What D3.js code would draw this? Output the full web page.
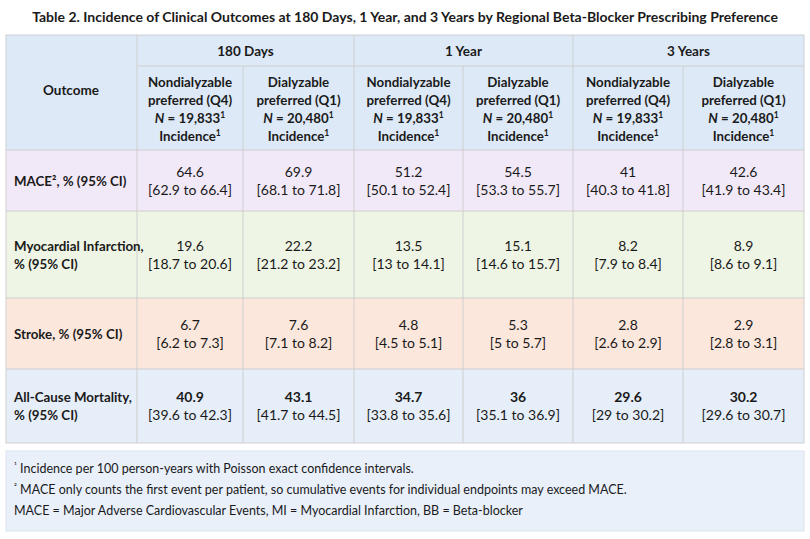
<!DOCTYPE html>
<html><head><meta charset="utf-8">
<script src="https://cdn.jsdelivr.net/npm/d3@7"></script>
<style>body{margin:0;background:#fff}text{font-family:Lato,"Open Sans",sans-serif;fill:#1a1a1a}</style>
</head><body><svg id="c" width="810" height="539"></svg>
<script>
const title = "Table 2. Incidence of Clinical Outcomes at 180 Days, 1 Year, and 3 Years by Regional Beta-Blocker Prescribing Preference";
const periods = ["180 Days", "1 Year", "3 Years"];
const groups = [["Nondialyzable","preferred (Q4)","N = 19,833","Incidence"],["Dialyzable","preferred (Q1)","N = 20,480","Incidence"]];
const outcomes = [["MACE², % (95% CI)"],["Myocardial Infarction,","% (95% CI)"],["Stroke, % (95% CI)"],["All-Cause Mortality,","% (95% CI)"]];
const values = [
 [64.6,69.9,51.2,54.5,41,42.6],
 [19.6,22.2,13.5,15.1,8.2,8.9],
 [6.7,7.6,4.8,5.3,2.8,2.9],
 [40.9,43.1,34.7,36,29.6,30.2]];
const ci = [
 ["62.9 to 66.4","68.1 to 71.8","50.1 to 52.4","53.3 to 55.7","40.3 to 41.8","41.9 to 43.4"],
 ["18.7 to 20.6","21.2 to 23.2","13 to 14.1","14.6 to 15.7","7.9 to 8.4","8.6 to 9.1"],
 ["6.2 to 7.3","7.1 to 8.2","4.5 to 5.1","5 to 5.7","2.6 to 2.9","2.8 to 3.1"],
 ["39.6 to 42.3","41.7 to 44.5","33.8 to 35.6","35.1 to 36.9","29 to 30.2","29.6 to 30.7"]];
const footnotes = ["¹ Incidence per 100 person-years with Poisson exact confidence intervals.","² MACE only counts the first event per patient, so cumulative events for individual endpoints may exceed MACE.","MACE = Major Adverse Cardiovascular Events, MI = Myocardial Infarction, BB = Beta-blocker"];
const rowColors = ["#f2e9f8","#eff5e5","#fce7dd","#e6eef9"];

const svg = d3.select("#c");
const colEdges = [6,137,243,354,463,573,683,804];
const rowEdges = [150,211,298,369,443];
const bc = "#cfcfcf";
svg.append("text").attr("x",405).attr("y",22).attr("text-anchor","middle").attr("font-size",14).attr("font-weight",700).text(title);
svg.append("rect").attr("x",6).attr("y",35).attr("width",798).attr("height",115).attr("fill","#dde9f7");
outcomes.forEach((o,i)=>svg.append("rect").attr("x",6).attr("y",rowEdges[i]).attr("width",798).attr("height",rowEdges[i+1]-rowEdges[i]).attr("fill",rowColors[i]));
const L=(x1,y1,x2,y2)=>svg.append("line").attr("x1",x1).attr("y1",y1).attr("x2",x2).attr("y2",y2).attr("stroke",bc).attr("stroke-width",1);
svg.append("rect").attr("x",6).attr("y",35).attr("width",798).attr("height",408).attr("fill","none").attr("stroke",bc);
L(137,66,804,66);
rowEdges.slice(0,4).forEach(y=>L(6,y,804,y));
colEdges.slice(1,7).forEach((x,i)=>L(x,i%2===1?66:35,x,443));
svg.append("text").attr("x",71).attr("y",95).attr("text-anchor","middle").attr("font-size",13.5).attr("font-weight",700).text("Outcome");
periods.forEach((p,i)=>{
  const cx=(colEdges[1+2*i]+colEdges[3+2*i])/2;
  svg.append("text").attr("x",cx).attr("y",56).attr("text-anchor","middle").attr("font-size",13.5).attr("font-weight",700).text(p);
  groups.forEach((g,j)=>{
    const x=(colEdges[1+2*i+j]+colEdges[2+2*i+j])/2;
    g.forEach((line,k)=>{
      const t=svg.append("text").attr("x",x).attr("y",87+k*18).attr("text-anchor","middle").attr("font-size",13.3).attr("font-weight",700);
      if(k===2){t.append("tspan").attr("font-style","italic").text("N");t.append("tspan").text(line.slice(1));t.append("tspan").attr("font-size",8.5).attr("dy",-5).text("1");}
      else if(k===3){t.append("tspan").text(line);t.append("tspan").attr("font-size",8.5).attr("dy",-5).text("1");}
      else t.text(line);
    });
  });
});
outcomes.forEach((o,i)=>{
  const cy=(rowEdges[i]+rowEdges[i+1])/2;
  o.forEach((line,k)=>svg.append("text").attr("x",14).attr("y",cy+5-(o.length-1)*9+k*18).attr("font-size",13.3).attr("font-weight",700).text(line));
  values[i].forEach((v,j)=>{
    const x=(colEdges[j+1]+colEdges[j+2])/2;
    svg.append("text").attr("x",x).attr("y",cy-4).attr("text-anchor","middle").attr("font-size",14).attr("font-weight",i===3?700:400).text(v);
    svg.append("text").attr("x",x).attr("y",cy+14).attr("text-anchor","middle").attr("font-size",14).text("["+ci[i][j]+"]");
  });
});
svg.append("rect").attr("x",6).attr("y",451).attr("width",798).attr("height",80).attr("fill","#e9f0fa").attr("stroke","#dbe4ef");
footnotes.forEach((f,k)=>{
  const t=svg.append("text").attr("x",14).attr("y",473+k*21).attr("font-size",12.5);
  if(k<2){t.append("tspan").attr("font-size",8.5).attr("dy",-4).text(f[0]);t.append("tspan").attr("dy",4).text(f.slice(1));}
  else t.text(f);
});
</script></body></html>
